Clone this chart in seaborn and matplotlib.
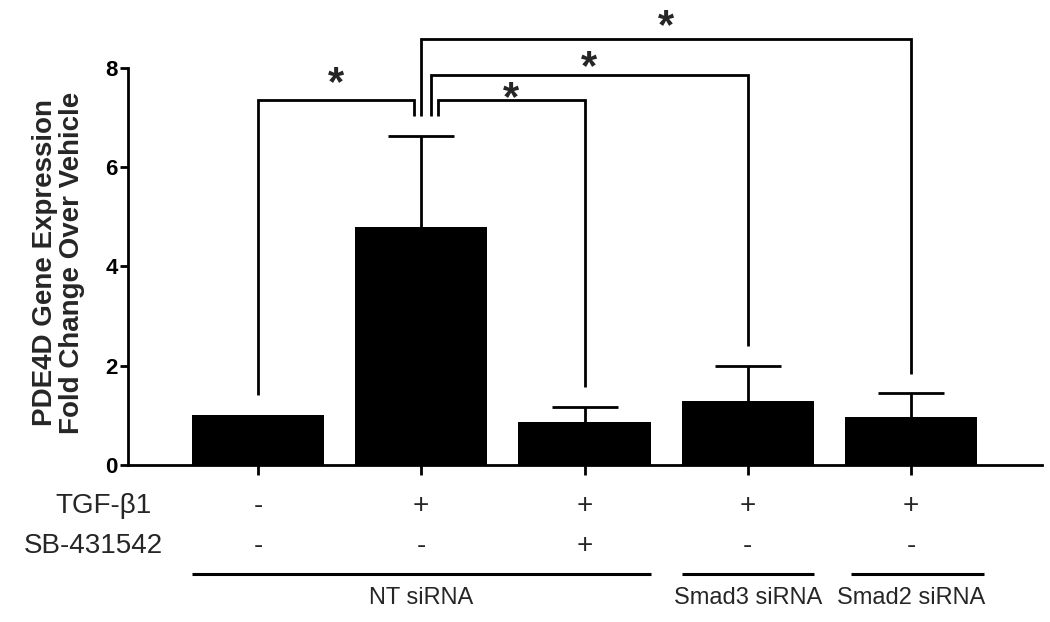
import numpy as np
import pandas as pd
import matplotlib
matplotlib.use("Agg")
import matplotlib.pyplot as plt
import seaborn as sns

# --- data -----------------------------------------------------------------
conditions = ["NT vehicle", "NT TGF-b1", "NT TGF-b1 + SB", "Smad3 TGF-b1", "Smad2 TGF-b1"]
fold_change = [1.00, 4.80, 0.87, 1.29, 0.97]
sem = [0.00, 1.82, 0.30, 0.71, 0.47]
tgf_b1 = ["-", "+", "+", "+", "+"]
sb_431542 = ["-", "-", "+", "-", "-"]
sirna_groups = ["NT siRNA", "Smad3 siRNA", "Smad2 siRNA"]
group_spans = [(0, 2), (3, 3), (4, 4)]
comparisons = [(0, 1), (1, 2), (1, 3), (1, 4)]
significance = ["*", "*", "*", "*"]
y_ticks = [0, 2, 4, 6, 8]

# --- layout of the significance brackets -----------------------------------
bracket_heights = [7.34, 7.34, 7.85, 8.58]
star_heights = [7.82, 7.52, 8.16, 8.97]
leg_offsets = [(0.0, -0.047), (0.102, 0.0), (0.057, 0.0), (0.0, 0.0)]
leg_gap = 0.40

sns.set_style("white")
plt.rcParams["font.family"] = ["Liberation Sans", "DejaVu Sans"]

fig = plt.figure(figsize=(10.5, 6.22), dpi=100)
ax = fig.add_axes([128.3 / 1050, 1 - 465 / 622, (1041.7 - 128.3) / 1050, (465 - 67.7) / 622])

df = pd.DataFrame({"condition": conditions, "fold_change": fold_change})
sns.barplot(data=df, x="condition", y="fold_change", color="black", saturation=1,
            width=0.81, errorbar=None, edgecolor="black", linewidth=0, ax=ax)

# upper error bars (SEM); the vehicle control is the reference and has none
xs = np.arange(len(conditions))
mean = np.array(fold_change)
err = np.array(sem)
has_err = err > 0
_, caps, _ = ax.errorbar(xs[has_err], mean[has_err],
                         yerr=[np.zeros(has_err.sum()), err[has_err]],
                         fmt="none", ecolor="black", elinewidth=2, capsize=24,
                         capthick=2, zorder=3)
# only the upper caps are drawn
for cap in caps:
    if np.allclose(cap.get_ydata(), mean[has_err]):
        cap.set_visible(False)

ax.set_xlim(-0.794, 4.80)
ax.set_ylim(0, 8)
ax.set_yticks(y_ticks)
ax.set_yticklabels([str(t) for t in y_ticks], fontsize=16, fontweight="bold")
ax.set_xticks(xs)
ax.set_xticklabels([])
ax.set_xlabel("")
ax.set_ylabel("PDE4D Gene Expression\nFold Change Over Vehicle", fontsize=20,
              fontweight="bold", linespacing=1.05)
ax.yaxis.set_label_coords(-0.047, 0.51)

for side in ("top", "right"):
    ax.spines[side].set_visible(False)
for side in ("left", "bottom"):
    ax.spines[side].set_linewidth(2)
    ax.spines[side].set_color("black")
ax.tick_params(axis="y", direction="out", length=6, width=2, pad=1.5, colors="black", left=True)
ax.tick_params(axis="x", direction="out", length=7.2, width=2, colors="black", bottom=True)

# significance brackets
for (i, j), h, (oi, oj), star_y, mark in zip(comparisons, bracket_heights, leg_offsets,
                                             star_heights, significance):
    xi, xj = i + oi, j + oj
    yi = fold_change[i] + sem[i] + leg_gap
    yj = fold_change[j] + sem[j] + leg_gap
    ax.plot([xi, xi, xj, xj], [yi, h, h, yj], color="black", lw=2, clip_on=False,
            solid_joinstyle="miter", solid_capstyle="butt")
    ax.text((xi + xj) / 2, star_y - 0.38, mark, ha="center", va="baseline",
            fontsize=30, fontweight="bold", clip_on=False)

# treatment table under the axis
ax.text(-0.649, -0.973, "TGF-β1", ha="right", va="baseline", fontsize=20, clip_on=False)
ax.text(-0.582, -1.766, "SB-431542", ha="right", va="baseline", fontsize=20, clip_on=False)
for x, t, s in zip(xs, tgf_b1, sb_431542):
    ax.text(x, -0.973, t, ha="center", va="baseline", fontsize=20, clip_on=False)
    ax.text(x, -1.766, s, ha="center", va="baseline", fontsize=20, clip_on=False)

half = 0.81 / 2
line_shift = [0.0, 0.0, 0.04]
for name, (a, b), dx in zip(sirna_groups, group_spans, line_shift):
    ax.plot([a - half + dx, b + half + dx], [-2.195, -2.195], color="black", lw=2.2,
            clip_on=False, solid_capstyle="butt")
    ax.text((a + b) / 2, -2.80, name, ha="center", va="baseline", fontsize=17, clip_on=False)

fig.savefig("out.png", dpi=100, facecolor="white")
